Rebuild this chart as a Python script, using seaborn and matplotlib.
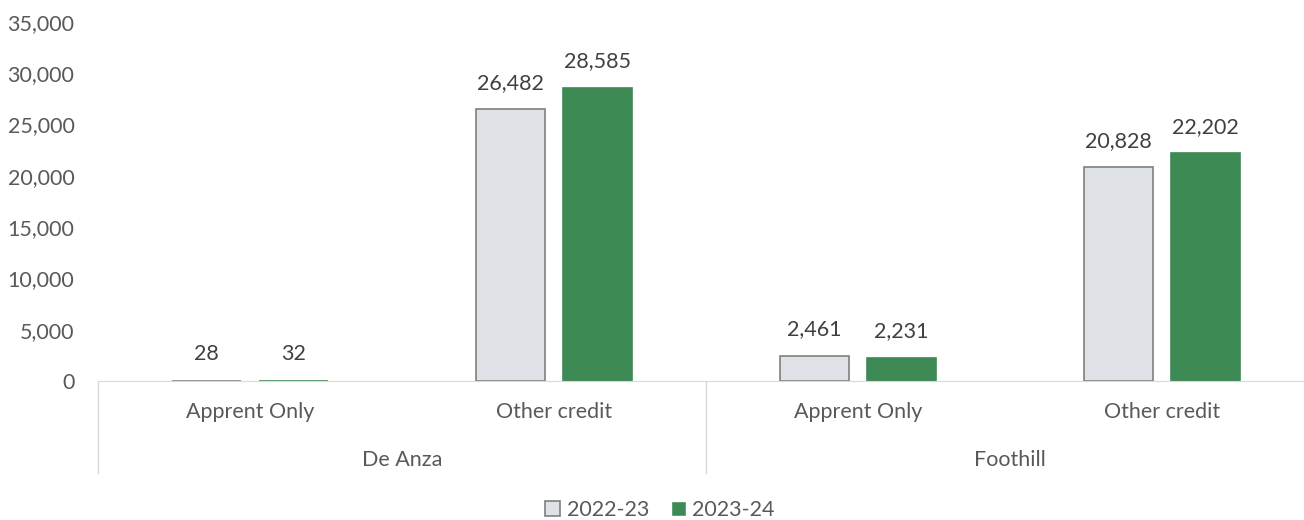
import pandas as pd
import matplotlib.pyplot as plt
import matplotlib.transforms as mtransforms
import seaborn as sns

# chart data
sites = ["De Anza", "De Anza", "Foothill", "Foothill"]
categories = ["Apprent Only", "Other credit", "Apprent Only", "Other credit"]
years = ["2022-23", "2023-24"]
values_2223 = [28, 26482, 2461, 20828]
values_2324 = [32, 28585, 2231, 22202]

rows = []
for i in range(len(categories)):
    key = sites[i] + "|" + categories[i]
    rows.append({"slot": key, "year": years[0], "value": values_2223[i]})
    rows.append({"slot": key, "year": years[1], "value": values_2324[i]})
df = pd.DataFrame(rows)
order = [s + "|" + c for s, c in zip(sites, categories)]

sns.set_style("white")
plt.rcParams["font.family"] = ["Lato", "DejaVu Sans"]

txt = "#404040"
fs = 15.5
fig = plt.figure(figsize=(13.04, 5.2), dpi=100)
ax = fig.add_axes([98 / 1304, 139 / 520, 1 - 98 / 1304, 359 / 520])

sns.barplot(data=df, x="slot", y="value", hue="year", order=order,
            hue_order=years, palette=["#DEE2E6", "#3D8A55"], saturation=1,
            width=0.57, gap=0.2, ax=ax, legend=True)

for bar in ax.containers[0]:
    bar.set_edgecolor("#7F7F7F")
    bar.set_linewidth(1.2)
for bar in ax.containers[1]:
    bar.set_edgecolor("#3D8A55")
    bar.set_linewidth(1.2)

for cont in ax.containers:
    ax.bar_label(cont, fmt="{:,.0f}", padding=12, fontsize=fs, color=txt)

ax.set_xlim(-0.5, -0.5 + 4 * (1304 - 98) / 1216)
ax.set_ylim(0, 35000)
ax.set_yticks(range(0, 35001, 5000))
ax.set_yticklabels([f"{v:,}" for v in range(0, 35001, 5000)])
ax.tick_params(axis="y", length=0, pad=17, labelsize=fs, labelcolor="#595959")
ax.set_xticks([])
ax.set_xlabel("")
ax.set_ylabel("")
for s in ["top", "right", "left"]:
    ax.spines[s].set_visible(False)
ax.spines["bottom"].set_color("#D9D9D9")

# two level category axis
trans = mtransforms.blended_transform_factory(ax.transData, ax.transAxes)
for i, c in enumerate(categories):
    ax.text(i, -0.086, c, transform=trans, ha="center", va="center",
            fontsize=fs, color="#595959")
ax.text(0.5, -0.22, "De Anza", transform=trans, ha="center", va="center",
        fontsize=fs, color="#595959")
ax.text(2.5, -0.22, "Foothill", transform=trans, ha="center", va="center",
        fontsize=fs, color="#595959")
for xv in [-0.5, 1.5]:
    ax.plot([xv, xv], [0, -0.256], transform=trans, color="#D9D9D9",
            lw=1, clip_on=False)

ax.get_legend().remove()
handles, labels = ax.get_legend_handles_labels()
handles[0].set_edgecolor("#7F7F7F")
handles[0].set_linewidth(1.2)
fig.legend(handles, labels, loc="center", bbox_to_anchor=(660 / 1304, 1 - 510 / 520),
           ncol=2, frameon=False, fontsize=fs, handlelength=0.7,
           handleheight=0.7, handletextpad=0.3, columnspacing=1.0,
           labelcolor="#595959")

plt.savefig("out.png", dpi=100)
